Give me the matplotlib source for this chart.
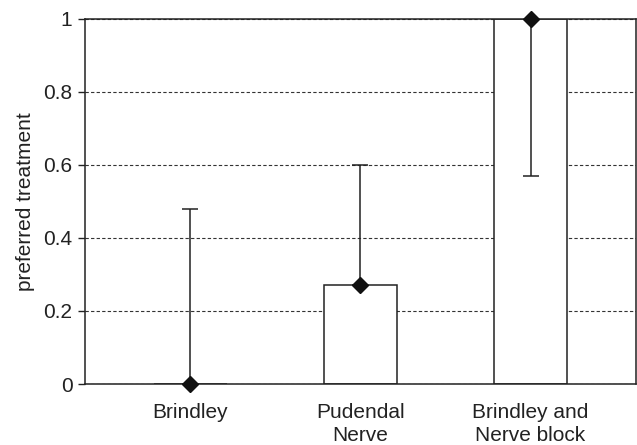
import matplotlib.pyplot as plt

# values
categories = ["Brindley", "Pudendal\nNerve", "Brindley and\nNerve block"]
values = [0.0, 0.27, 1.0]
err_low = [0.0, 0.0, 0.43]
err_high = [0.48, 0.33, 0.0]
y_ticks = [0, 0.2, 0.4, 0.6, 0.8, 1]
y_tick_labels = ["0", "0.2", "0.4", "0.6", "0.8", "1"]


def main():
    plt.rcParams['font.family'] = ['Liberation Sans', 'DejaVu Sans']
    fig = plt.figure(figsize=(6.37, 4.45), dpi=100)
    ax = fig.add_axes([0.1334, 0.137, 0.865, 0.821])

    x = list(range(len(categories)))
    ax.bar(x, values, width=0.433, color="white", edgecolor="#222222",
           linewidth=1.1, zorder=2)
    ax.errorbar(x, values, yerr=[err_low, err_high], fmt="none",
                ecolor="#222222", elinewidth=1.1, capsize=5.5, capthick=1.1,
                zorder=3)
    ax.plot(x, values, linestyle="none", marker="D", markersize=8.5,
            color="#111111", zorder=4, clip_on=False)

    ax.set_xlim(-0.62, 2.62)
    ax.set_ylim(0, 1)
    ax.set_yticks(y_ticks)
    ax.set_yticklabels(y_tick_labels)
    ax.set_xticks(x)
    ax.set_xticklabels(categories, linespacing=1.25)
    ax.tick_params(axis="x", length=0, pad=14, labelsize=15, colors="#222222")
    ax.tick_params(axis="y", length=5, width=1, pad=4, labelsize=15,
                   colors="#222222")
    ax.yaxis.grid(True, linestyle=(0, (3, 2)), linewidth=0.8, color="#333333")
    ax.set_axisbelow(True)
    for s in ax.spines.values():
        s.set_linewidth(1.1)
        s.set_color("#222222")
    ax.set_ylabel("preferred treatment", fontsize=15, color="#222222",
                  labelpad=6)

    fig.savefig("out.png", dpi=100)


if __name__ == "__main__":
    main()
